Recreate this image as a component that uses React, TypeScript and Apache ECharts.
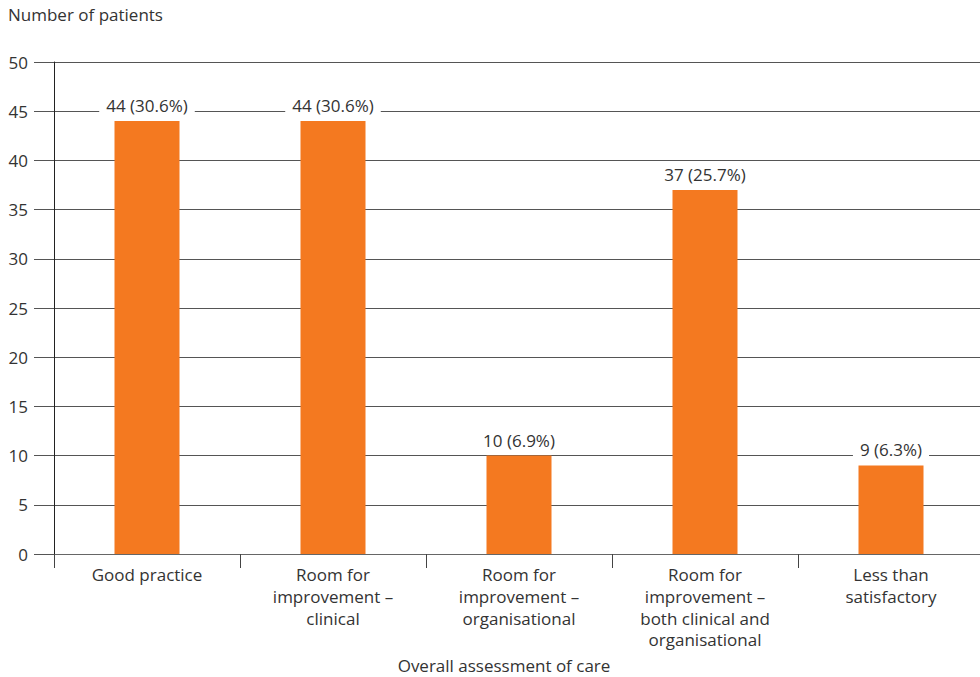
import React, { useEffect, useRef } from "react";
import * as echarts from "echarts";

const categories = [
  "Good practice",
  "Room for\nimprovement –\nclinical",
  "Room for\nimprovement –\norganisational",
  "Room for\nimprovement –\nboth clinical and\norganisational",
  "Less than\nsatisfactory",
];
const counts = [44, 44, 10, 37, 9];
const percents = ["30.6%", "30.6%", "6.9%", "25.7%", "6.3%"];
const yTitle = "Number of patients";
const xTitle = "Overall assessment of care";

const FONT = "'Open Sans', 'Noto Sans', sans-serif";
const FS = 17;

export default function App() {
  const ref = useRef<HTMLDivElement>(null);
  useEffect(() => {
    if (!ref.current) return;
    const chart = echarts.init(ref.current, null, { renderer: "svg" });
    chart.setOption({
      animation: false,
      backgroundColor: "#ffffff",
      textStyle: { fontFamily: FONT },
      grid: {
        left: 54,
        width: 930,
        top: 62,
        bottom: 123,
        containLabel: false,
        outerBoundsMode: "none",
      },
      graphic: [
        {
          type: "text",
          left: 8,
          top: 6,
          style: { text: yTitle, fontFamily: FONT, fontSize: FS, fill: "#333" },
        },
        {
          type: "text",
          x: 504,
          y: 665,
          style: {
            text: xTitle,
            fontFamily: FONT,
            fontSize: FS,
            fill: "#333",
            align: "center",
            verticalAlign: "middle",
          },
        },
      ],
      xAxis: {
        type: "category",
        data: categories,
        axisLine: { show: true, lineStyle: { color: "#666", width: 1 } },
        axisTick: {
          show: true,
          alignWithLabel: false,
          length: 14,
          lineStyle: { color: "#444", width: 1 },
        },
        axisLabel: {
          interval: 0,
          margin: 10,
          fontFamily: FONT,
          fontSize: FS,
          color: "#333",
          lineHeight: 21.7,
        },
      },
      yAxis: {
        type: "value",
        min: 0,
        max: 50,
        interval: 5,
        axisLine: { show: true, lineStyle: { color: "#222", width: 1 } },
        axisTick: { show: true, length: 20, lineStyle: { color: "#555", width: 1 } },
        axisLabel: { margin: 26, fontFamily: FONT, fontSize: FS, color: "#333" },
        splitLine: { show: true, lineStyle: { color: "#555", width: 1 } },
      },
      series: [
        {
          type: "bar",
          data: counts,
          barWidth: 65,
          itemStyle: { color: "#F47920" },
          z: 3,
          label: {
            show: true,
            position: "top",
            distance: 7,
            fontFamily: FONT,
            fontSize: FS,
            color: "#333",
            backgroundColor: "#ffffff",
            padding: [0, 7],
            formatter: (p: any) => `${p.value} (${percents[p.dataIndex]})`,
          },
        },
      ],
    });
    return () => chart.dispose();
  }, []);
  return <div ref={ref} style={{ width: 980, height: 677, position: "absolute", left: 0, top: 0 }} />;
}
